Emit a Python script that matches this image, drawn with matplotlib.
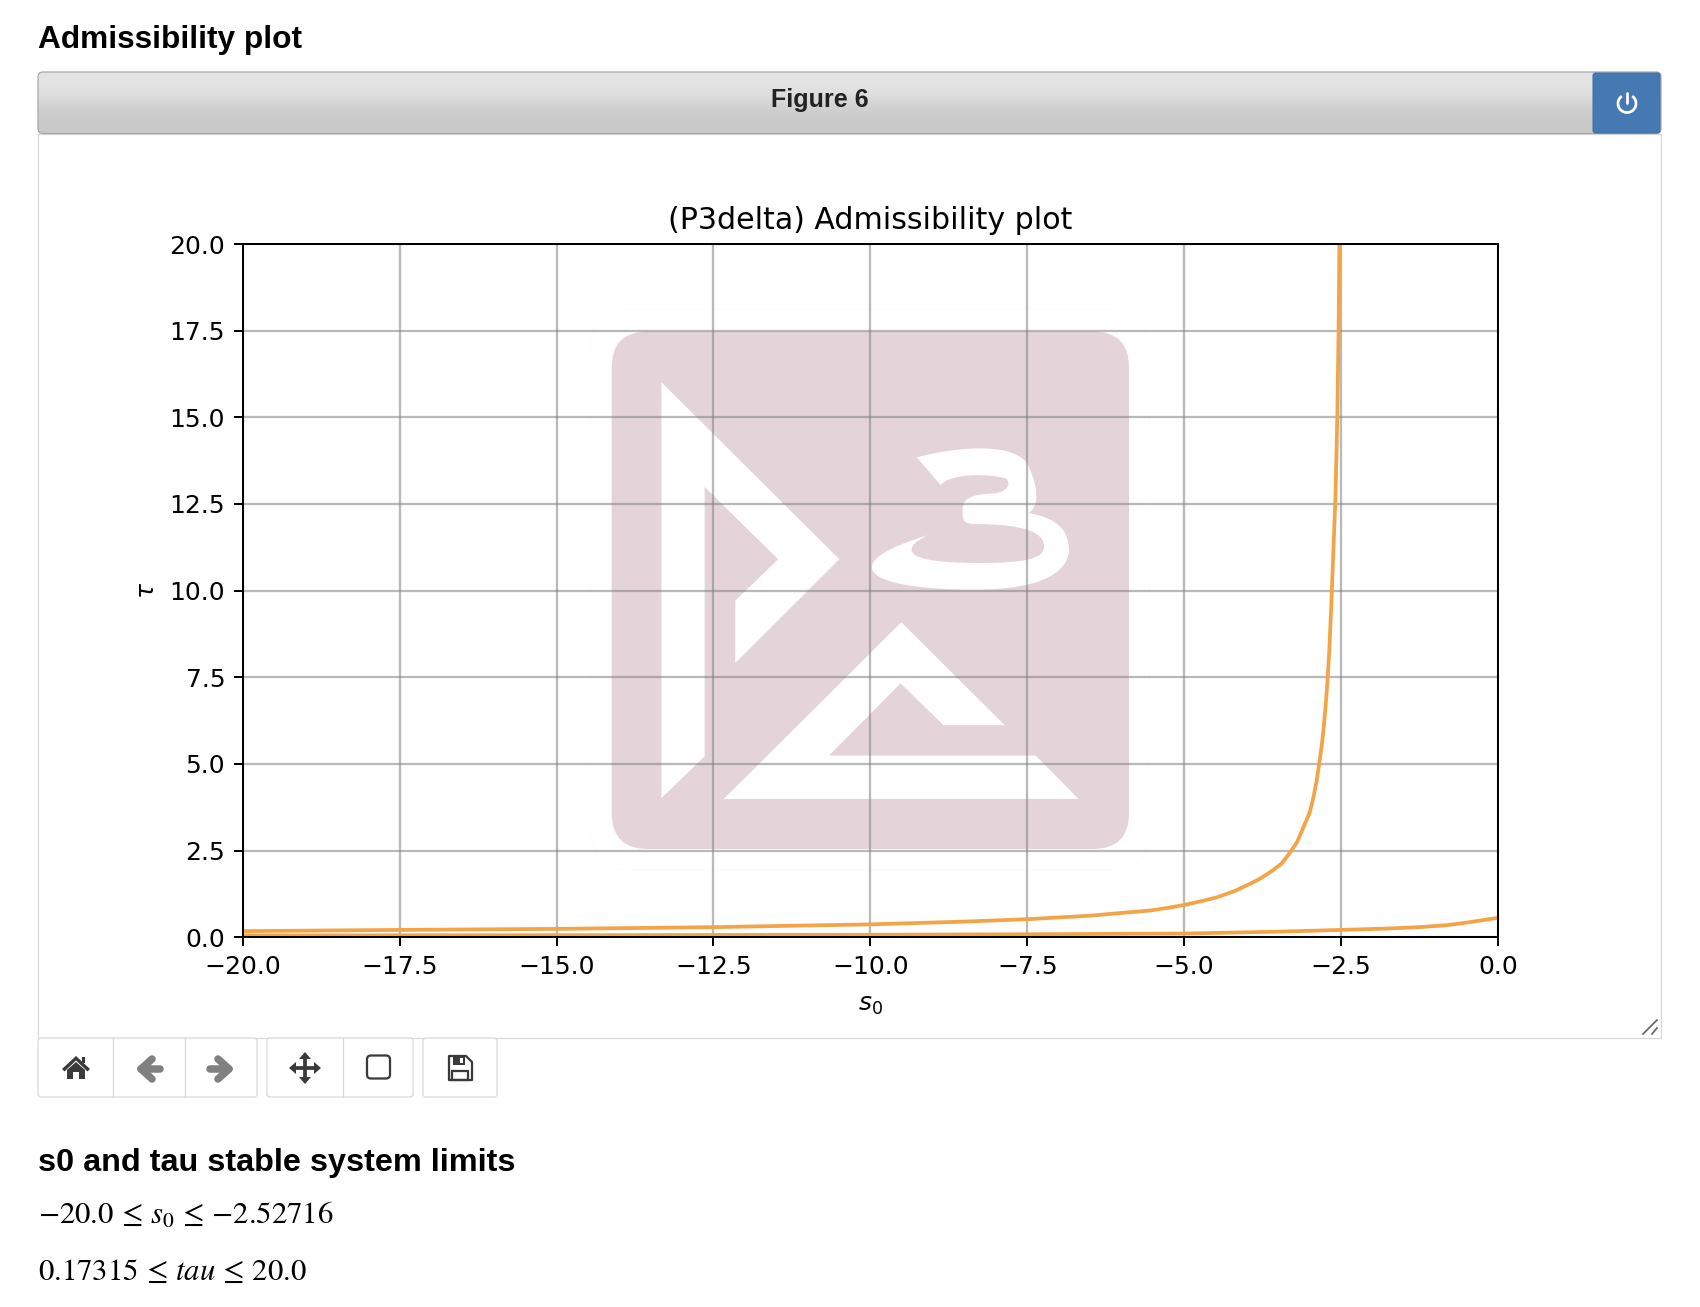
import matplotlib
matplotlib.use("Agg")
import matplotlib.pyplot as plt
from matplotlib.patches import FancyBboxPatch, Rectangle, Polygon, PathPatch, Arc
from matplotlib.path import Path
import numpy as np

# values
upper_s0 = [-20.0, -17.5, -15.0, -12.5, -10.0, -8.5, -7.5, -6.5, -6.0, -5.54, -5.25, -5.0, -4.75, -4.48,
            -4.2, -3.95, -3.8, -3.63, -3.45, -3.31, -3.2, -3.1, -3.0, -2.94, -2.89, -2.85, -2.81, -2.78,
            -2.75, -2.72, -2.69, -2.66, -2.63, -2.59, -2.56, -2.54, -2.527]
upper_tau = [0.175, 0.21, 0.24, 0.29, 0.37, 0.45, 0.52, 0.62, 0.70, 0.77, 0.85, 0.93, 1.03, 1.15,
             1.33, 1.54, 1.68, 1.875, 2.12, 2.45, 2.75, 3.17, 3.6, 4.04, 4.5, 5.0, 5.5, 6.0,
             6.6, 7.3, 8.2, 9.4, 10.8, 12.7, 15.0, 17.5, 20.0]
lower_s0 = [-20.0, -15.0, -10.0, -7.5, -5.0, -3.5, -2.5, -1.75, -1.25, -0.8, -0.5, -0.25, 0.0]
lower_tau = [0.05, 0.058, 0.07, 0.085, 0.105, 0.16, 0.21, 0.25, 0.29, 0.35, 0.42, 0.49, 0.56]
x_ticks = [-20.0, -17.5, -15.0, -12.5, -10.0, -7.5, -5.0, -2.5, 0.0]
y_ticks = [0.0, 2.5, 5.0, 7.5, 10.0, 12.5, 15.0, 17.5, 20.0]

W, H = 1700, 1307
DPI = 180
ORANGE = "#f3a446"
LOGO = "#e4d4da"
ICON = "#3a3a3a"
ICON2 = "#808080"

fig = plt.figure(figsize=(W / DPI, H / DPI), dpi=DPI, facecolor="white")

# page background, in pixels of the screenshot
page = fig.add_axes([0, 0, 1, 1], zorder=0)
page.set_xlim(0, W)
page.set_ylim(H, 0)
page.axis("off")


def lz(pts):
    return [(560 + a / 2.613, 300 + b / 2.70) for a, b in pts]


def round_box(x0, y0, x1, y1, r, **kw):
    p = FancyBboxPatch((x0 + r, y0 + r), x1 - x0 - 2 * r, y1 - y0 - 2 * r,
                       boxstyle="round,pad=%f,rounding_size=%f" % (r, r), **kw)
    page.add_patch(p)
    return p


# headings
page.text(38, 48, "Admissibility plot", family="Liberation Sans", weight="bold",
          fontsize=12.65, color="black", va="baseline")
page.text(38, 1171, "s0 and tau stable system limits", family="Liberation Sans", weight="bold",
          fontsize=12.95, color="black", va="baseline")
plt.rcParams["mathtext.fontset"] = "stix"
page.text(38, 1224, r"$\mathrm{-20.0}\,\leq\,s_0\,\leq\,\mathrm{-2.52716}$", fontsize=12.3,
          color="black", va="baseline")
page.text(38, 1280, r"$\mathrm{0.17315}\,\leq\,tau\,\leq\,\mathrm{20.0}$", fontsize=12.3,
          color="black", va="baseline")

# title bar of the figure widget
box = round_box(38, 72, 1661, 133.5, 5, fc="none", ec="#a8a8a8", lw=0.5, zorder=3)
grad = np.array([[227], [227], [222], [214], [206], [201], [201]]) / 255
im = page.imshow(grad, cmap="gray", vmin=0, vmax=1, extent=(38, 1661, 133.5, 72),
                 aspect="auto", interpolation="bilinear", zorder=2)
im.set_clip_path(box)
page.set_xlim(0, W)
page.set_ylim(H, 0)
page.text(820, 107, "Figure 6", family="Liberation Sans", weight="bold", fontsize=10.05,
          color="#222222", ha="center", va="baseline", zorder=4)
round_box(1593, 73, 1660, 133, 2.5, fc="#4678b2", ec="#3f6fa6", lw=0.4, zorder=4)
page.add_patch(Arc((1627, 103.5), 18, 18, theta1=-55, theta2=235, ec="white", lw=1.1, zorder=5))
page.plot([1627, 1627], [93, 103], color="white", lw=1.1, solid_capstyle="round", zorder=5)

# canvas border
page.add_patch(Rectangle((38, 134), 1623, 904, fc="white", ec="#d8d8d8", lw=0.5, zorder=1))
page.plot([1643, 1657], [1034, 1020], color="#666666", lw=0.7, zorder=3)
page.plot([1652, 1657], [1034, 1028], color="#666666", lw=0.7, zorder=3)

# watermark logo
round_box(590.6, 309, 1149, 870, 40, fc="white", ec="#fdfdfd", lw=0.5, zorder=1.5)
round_box(611.7, 331.5, 1129, 849, 36, fc=LOGO, ec="none", zorder=1.6)
page.add_patch(Polygon(lz([(265, 222), (730, 700), (458, 980), (458, 812), (570, 700),
                           (378, 505), (378, 1232), (265, 1345)]), fc="white", ec="none", zorder=1.7))
page.add_patch(Polygon(lz([(428, 1347), (892, 870), (1162, 1148), (1002, 1148), (890, 1035),
                           (703, 1230), (1243, 1230), (1355, 1347)]), fc="white", ec="none", zorder=1.7))
three = [(932, 425), (1040, 395), (1180, 385), (1220, 440), (1240, 480), (1262, 550), (1225, 575),
         (1300, 590), (1330, 620), (1330, 680), (1320, 760), (1200, 785), (1060, 782),
         (920, 780), (815, 760), (815, 722), (815, 685), (900, 655), (960, 635),
         (925, 655), (915, 665), (920, 680), (930, 705), (1020, 710), (1100, 710),
         (1210, 710), (1265, 700), (1265, 665), (1265, 610), (1150, 605), (1085, 605),
         (1050, 605), (1052, 590), (1052, 565), (1052, 525), (1100, 525), (1135, 522),
         (1170, 518), (1180, 495), (1165, 482), (1130, 470), (1020, 465), (995, 500)]
codes = [Path.MOVETO] + [Path.CURVE4] * (len(three) - 1)
# last segment has to land on a whole bezier, so close it with straight lines
n = (len(three) - 1) % 3
if n:
    codes[-n:] = [Path.LINETO] * n
three = three + [three[0]]
codes = codes + [Path.LINETO]
page.add_patch(PathPatch(Path(lz(three), codes), fc="white", ec="none", zorder=1.7))

# toolbar under the canvas
for x0, x1, dividers in [(38, 257, [113, 185]), (267, 413, [343]), (423, 497, [])]:
    round_box(x0, 1038, x1, 1097, 3, fc="white", ec="#d9d9d9", lw=0.5, zorder=1)
    for d in dividers:
        page.plot([d, d], [1038, 1097], color="#d9d9d9", lw=0.5, zorder=1.2)

# home
page.add_patch(Polygon([(62, 1069), (76, 1056), (90, 1069), (87.5, 1071.5), (76, 1060.5), (64.5, 1071.5)],
                       fc=ICON, ec="none", zorder=3))
page.add_patch(Polygon([(67, 1070), (76, 1062), (85, 1070), (85, 1079), (79, 1079), (79, 1072),
                        (73, 1072), (73, 1079), (67, 1079)], fc=ICON, ec="none", zorder=3))
page.add_patch(Rectangle((82, 1057), 3.5, 6, fc=ICON, ec="none", zorder=3))
# back / forward
page.plot([141, 160], [1069, 1069], color=ICON2, lw=3, solid_capstyle="round", zorder=3)
page.plot([152, 141, 152], [1059, 1069, 1079], color=ICON2, lw=3, solid_capstyle="round",
          solid_joinstyle="round", zorder=3)
page.plot([210, 229], [1069, 1069], color=ICON2, lw=3, solid_capstyle="round", zorder=3)
page.plot([218, 229, 218], [1059, 1069, 1079], color=ICON2, lw=3, solid_capstyle="round",
          solid_joinstyle="round", zorder=3)
# move
page.plot([305, 305], [1058, 1078], color=ICON, lw=1.5, zorder=3)
page.plot([293, 317], [1068, 1068], color=ICON, lw=1.5, zorder=3)
for pts in [[(305, 1052), (299, 1059), (311, 1059)], [(305, 1084), (299, 1077), (311, 1077)],
            [(289, 1068), (296, 1062), (296, 1074)], [(321, 1068), (314, 1062), (314, 1074)]]:
    page.add_patch(Polygon(pts, fc=ICON, ec="none", zorder=3))
# zoom rectangle
round_box(367, 1055.5, 390, 1078.5, 4, fc="none", ec=ICON, lw=0.9, zorder=3)
# save
page.add_patch(Polygon([(449, 1056), (466, 1056), (472, 1062), (472, 1080), (449, 1080)],
                       fc="none", ec=ICON, lw=0.9, joinstyle="round", zorder=3))
page.add_patch(Rectangle((453, 1056), 12, 9, fc=ICON, ec="none", zorder=3))
page.add_patch(Rectangle((460, 1057.5), 3, 5.5, fc="white", ec="none", zorder=3.1))
page.add_patch(Rectangle((452.5, 1071), 16, 9, fc="none", ec=ICON, lw=0.9, zorder=3))

# the actual plot
ax = fig.add_axes([242.7 / W, 1 - 937.2 / H, (1498 - 242.7) / W, (937.2 - 244) / H], zorder=2)
ax.patch.set_alpha(0)
ax.plot(upper_s0, upper_tau, color=ORANGE, lw=1.5)
ax.plot(lower_s0, lower_tau, color=ORANGE, lw=1.5)
ax.set_xlim(-20, 0)
ax.set_ylim(0, 20)
ax.set_xticks(x_ticks)
ax.set_yticks(y_ticks)
ax.tick_params(axis="x", pad=3.7)
ax.grid(True, color="#808080", alpha=0.55, lw=0.9)
ax.set_axisbelow(True)
ax.set_title("(P3delta) Admissibility plot", fontsize=12)
ax.set_xlabel(r"$s_0$", family="DejaVu Sans", math_fontfamily="dejavusans", labelpad=5.4)
ax.set_ylabel(r"$\tau$", family="DejaVu Sans", math_fontfamily="dejavusans")

fig.savefig("out.png", dpi=DPI)
